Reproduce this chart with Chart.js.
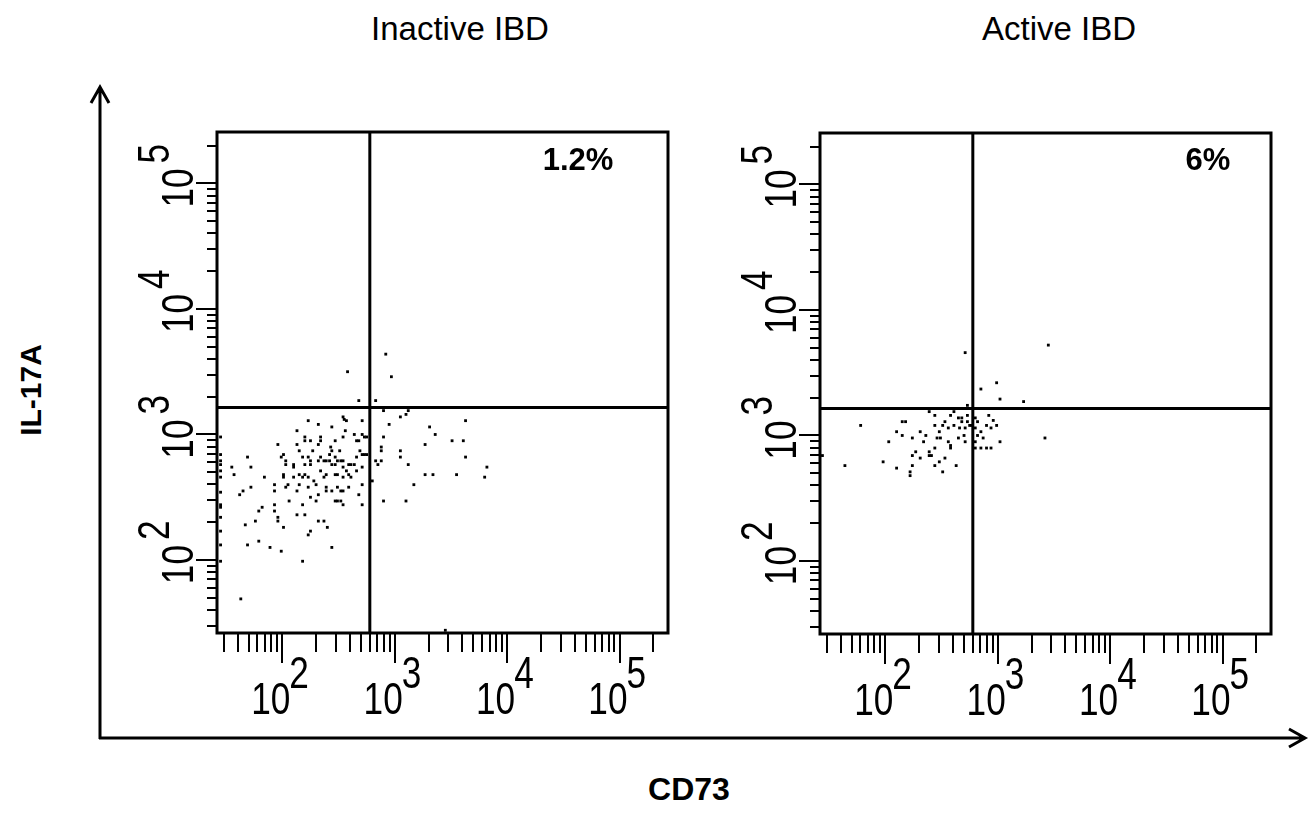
<!DOCTYPE html>
<html lang="en">
<head>
<meta charset="UTF-8">
<title>IL-17A vs CD73 - Inactive / Active IBD</title>
<style>
    body {
        margin: 0;
        width: 1312px;
        height: 834px;
        position: relative;
        overflow: hidden;
        background: #fff;
        color: #000;
        font-family: "Liberation Sans", Arial, sans-serif;
    }
    canvas { position: absolute; }
    #plotInactive { left: 120px; top: 100px; }
    #plotActive { left: 723px; top: 101px; }
    .panel-title {
        position: absolute;
        top: 10px;
        font-size: 33px;
        line-height: 38px;
        white-space: nowrap;
        transform: translateX(-50%);
    }
    .bold-label {
        position: absolute;
        font-weight: bold;
        white-space: nowrap;
        transform: translate(-50%, -50%);
    }
    #arrows { position: absolute; left: 0; top: 0; }
</style>
<script src="https://cdn.jsdelivr.net/npm/chart.js"></script>
</head>
<body>
    <div class="panel-title" style="left:460px">Inactive IBD</div>
    <div class="panel-title" style="left:1059px">Active IBD</div>

    <svg id="arrows" width="1312" height="834">
        <g stroke="#000" stroke-width="3" fill="none">
            <path d="M100 739 V88 M91 103 L100 87 L109 103"/>
            <path d="M99 738 H1304 M1289 729 L1305 738 L1289 747"/>
        </g>
    </svg>

    <canvas id="plotInactive" width="570" height="640"></canvas>
    <canvas id="plotActive" width="570" height="640"></canvas>

    <div class="bold-label" style="left:578px; top:160px; font-size:31px">1.2%</div>
    <div class="bold-label" style="left:1208px; top:160px; font-size:31px">6%</div>
    <div class="bold-label" style="left:31px; top:390px; font-size:30px; transform:translate(-50%,-50%) rotate(-90deg)">IL-17A</div>
    <div class="bold-label" style="left:689px; top:789px; font-size:32px">CD73</div>

<script>
// axis ranges (fluorescence intensity, log display)
const cd73Min = 26.2, cd73Max = 270000;
const il17aMin = 26.2, il17aMax = 257000;

// quadrant gate
const gateCD73 = 600;
const gateIL17A = 1640;

// tick marks: every k * 10^n, labelled at the decades
const tickDecades = [10, 100, 1000, 10000, 100000];
const tickSteps = [1, 2, 3, 4, 5, 6, 7, 8, 9];
const labelDecades = [100, 1000, 10000, 100000];
const labelExponents = ['2', '3', '4', '5'];

// events, as log10 of intensity
const inactiveLogCD73 = [
    2.92, 2.58, 2.97, 2.68, 2.83,
    2.90, 3.12, 3.10, 3.05, 2.54, 2.55, 2.23, 2.57, 2.71, 3.63,
    2.32, 2.95, 2.44, 3.31, 2.13, 2.56, 2.64, 2.71, 3.36,
    2.20, 2.20, 2.34, 2.34, 2.54, 2.73, 2.75, 2.90,
    1.96, 2.13, 2.25, 2.47, 2.66, 2.68, 3.51, 3.61,
    2.15, 2.27, 2.32, 2.43, 2.44, 2.51, 2.69, 2.88, 2.88, 3.05, 3.27,
    1.69, 1.99, 2.01, 2.18, 2.23, 2.25, 2.34, 2.42, 2.47, 2.54, 2.66, 2.71, 2.73, 2.75, 3.05, 3.63,
    1.55, 1.72, 2.03, 2.03, 2.10, 2.10, 2.20, 2.25, 2.32, 2.37, 2.39, 2.42, 2.44, 2.47, 2.49, 2.52, 2.54, 2.59, 2.61, 2.64, 2.66, 2.71, 2.83, 2.88, 2.85, 3.12,
    1.57, 1.84, 2.01, 2.01, 2.10, 2.15, 2.18, 2.20, 2.23, 2.28, 2.30, 2.34, 2.37, 2.39, 2.47, 2.49, 2.54, 2.57, 2.59, 2.61, 2.80, 3.27, 3.34, 3.55, 3.82, 3.80,
    1.65, 1.72, 1.62, 1.93, 1.93, 2.03, 2.05, 2.13, 2.15, 2.23, 2.32, 2.39, 2.39, 2.44, 2.49, 2.52, 2.54, 2.59, 2.71, 2.68, 3.17,
    2.06, 2.18, 2.25, 2.30, 2.47, 2.49, 2.52, 2.54, 2.71, 2.90, 3.10,
    1.82, 1.79, 1.93, 1.93, 1.96, 1.96, 2.13, 2.20, 2.32, 2.37,
    1.67, 1.76, 2.01, 2.40, 2.25, 2.23,
    1.69, 1.79, 1.89, 1.99, 2.44, 2.18,
    1.45, 1.45, 1.45, 1.45, 1.45, 1.45, 1.45, 1.45, 1.45, 1.45, 1.45, 1.45, 1.45,
    1.63, 3.45
];
const inactiveLogIL17A = [
    3.64, 3.50, 3.46, 3.27, 3.27,
    3.19, 3.19, 3.16, 3.14, 3.14, 3.12, 3.11, 3.11, 3.11, 3.11,
    3.08, 3.08, 3.06, 3.06, 3.03, 3.03, 3.00, 3.00, 3.00,
    2.98, 2.95, 2.98, 2.95, 2.98, 2.98, 2.98, 2.98,
    2.92, 2.92, 2.95, 2.95, 2.95, 2.95, 2.95, 2.95,
    2.87, 2.87, 2.92, 2.90, 2.87, 2.87, 2.87, 2.90, 2.87, 2.87, 2.92,
    2.82, 2.82, 2.84, 2.82, 2.82, 2.79, 2.82, 2.84, 2.82, 2.79, 2.82, 2.84, 2.84, 2.84, 2.82, 2.82,
    2.74, 2.74, 2.79, 2.76, 2.76, 2.74, 2.76, 2.76, 2.79, 2.79, 2.79, 2.79, 2.76, 2.76, 2.79, 2.79, 2.74, 2.76, 2.76, 2.76, 2.71, 2.74, 2.79, 2.79, 2.76, 2.76,
    2.68, 2.66, 2.68, 2.66, 2.66, 2.68, 2.66, 2.68, 2.66, 2.63, 2.60, 2.71, 2.66, 2.68, 2.68, 2.68, 2.66, 2.71, 2.68, 2.66, 2.63, 2.68, 2.68, 2.68, 2.74, 2.66,
    2.55, 2.58, 2.52, 2.60, 2.55, 2.58, 2.60, 2.55, 2.60, 2.58, 2.52, 2.58, 2.55, 2.55, 2.58, 2.55, 2.55, 2.58, 2.60, 2.52, 2.60,
    2.47, 2.44, 2.50, 2.47, 2.47, 2.47, 2.47, 2.44, 2.44, 2.47, 2.47,
    2.42, 2.39, 2.44, 2.39, 2.34, 2.31, 2.36, 2.36, 2.31, 2.31,
    2.28, 2.31, 2.26, 2.26, 2.23, 2.20,
    2.12, 2.15, 2.10, 2.07, 2.10, 1.99,
    2.98, 2.84, 2.79, 2.76, 2.71, 2.66, 2.54, 2.44, 2.42, 2.34, 2.23, 2.12, 1.99,
    1.69, 1.44
];

const activeLogCD73 = [
    3.45, 2.71, 2.99, 2.85, 3.02, 3.23, 2.73,
    2.39, 2.61, 2.44, 2.58, 2.73, 2.92, 2.65, 2.68,
    2.15, 2.18, 2.53, 2.68, 2.73, 2.80, 2.82, 2.96,
    1.78, 2.44, 2.51, 2.61, 2.75, 2.77, 2.90, 2.99,
    2.56, 2.66, 2.71, 2.80, 2.94,
    2.10, 2.31, 2.48, 2.85,
    2.15, 2.36, 2.70, 2.82,
    2.03, 2.24, 2.34, 2.46, 2.49, 2.56, 2.65, 2.71, 2.87, 2.80, 3.02, 3.42,
    2.58, 2.58, 2.44, 2.80, 2.85, 2.90, 2.94,
    2.27, 2.39, 2.39, 2.41, 2.24, 2.53, 2.31, 2.48, 1.98,
    1.64, 2.24, 2.44, 2.63, 2.10, 2.22, 2.22, 2.51, 1.44
];
const activeLogIL17A = [
    3.72, 3.66, 3.42, 3.37, 3.29, 3.27, 3.24,
    3.19, 3.19, 3.16, 3.16, 3.16, 3.16, 3.14, 3.14,
    3.11, 3.11, 3.11, 3.11, 3.11, 3.14, 3.11, 3.12,
    3.08, 3.08, 3.08, 3.08, 3.08, 3.08, 3.08, 3.08,
    3.06, 3.06, 3.06, 3.06, 3.06,
    3.03, 3.03, 3.03, 3.03,
    3.00, 3.00, 3.00, 3.00,
    2.95, 2.98, 2.95, 2.98, 2.98, 2.95, 2.98, 2.95, 2.98, 2.95, 2.95, 2.98,
    2.92, 2.90, 2.90, 2.90, 2.90, 2.90, 2.90,
    2.87, 2.87, 2.84, 2.84, 2.84, 2.82, 2.82, 2.79, 2.79,
    2.76, 2.76, 2.76, 2.76, 2.74, 2.71, 2.68, 2.71, 2.84
];

// look of the axes
const xMinorTick = 19, xMajorTick = 30;
const yMinorTick = 10, yMajorTick = 21;
const labelFont = '44px "Liberation Sans", Arial, sans-serif';
const labelSqueeze = 0.8;

function toEvents(logX, logY) {
    return logX.map((v, i) => ({ x: Math.pow(10, v), y: Math.pow(10, logY[i]) }));
}

// minor ticks at 2..9, major at the decades
function buildLogTicks(scale) {
    const ticks = [];
    tickDecades.forEach(d => {
        tickSteps.forEach(k => {
            const v = k * d;
            if (v >= scale.min && v <= scale.max) ticks.push({ value: v, major: k === 1 });
        });
    });
    scale.ticks = ticks;
}

// frame, long decade ticks and "10^n" labels
const flowFrame = {
    id: 'flowFrame',
    afterDraw(chart) {
        const { ctx, chartArea: a } = chart;
        const xs = chart.scales.x, ys = chart.scales.y;
        ctx.save();
        ctx.strokeStyle = '#000';
        ctx.fillStyle = '#000';
        ctx.lineWidth = 3;
        ctx.strokeRect(a.left, a.top, a.right - a.left, a.bottom - a.top);

        ctx.lineWidth = 2;
        ctx.beginPath();
        xs.ticks.filter(t => t.major).forEach(t => {
            const px = Math.round(xs.getPixelForValue(t.value));
            ctx.moveTo(px, a.bottom);
            ctx.lineTo(px, a.bottom + xMajorTick);
        });
        ys.ticks.filter(t => t.major).forEach(t => {
            const py = Math.round(ys.getPixelForValue(t.value));
            ctx.moveTo(a.left, py);
            ctx.lineTo(a.left - yMajorTick, py);
        });
        ctx.stroke();

        ctx.font = labelFont;
        ctx.textBaseline = 'alphabetic';
        labelDecades.forEach((v, i) => {
            // x axis label, under the tick
            const px = xs.getPixelForValue(v);
            ctx.save();
            ctx.translate(px, a.bottom);
            ctx.scale(labelSqueeze, 1);
            ctx.textAlign = 'right';
            ctx.fillText('10', 8 / labelSqueeze, 81);
            ctx.textAlign = 'left';
            ctx.fillText(labelExponents[i], 7 / labelSqueeze, 55);
            ctx.restore();

            // y axis label, turned to read upwards
            const py = ys.getPixelForValue(v);
            ctx.save();
            ctx.translate(a.left - 24, py);
            ctx.rotate(-Math.PI / 2);
            ctx.scale(labelSqueeze, 1);
            ctx.textAlign = 'right';
            ctx.fillText('10', 15 / labelSqueeze, 0);
            ctx.textAlign = 'left';
            ctx.fillText(labelExponents[i], 20 / labelSqueeze, -24);
            ctx.restore();
        });
        ctx.restore();
    }
};

function makePlot(canvasId, logX, logY) {
    return new Chart(document.getElementById(canvasId), {
        type: 'scatter',
        data: {
            datasets: [
                {
                    data: toEvents(logX, logY),
                    pointStyle: 'rect',
                    pointRadius: 2,
                    borderWidth: 0,
                    backgroundColor: '#000'
                },
                {
                    data: [{ x: cd73Min, y: gateIL17A }, { x: cd73Max, y: gateIL17A }],
                    showLine: true,
                    pointRadius: 0,
                    borderWidth: 3,
                    borderColor: '#000'
                },
                {
                    data: [{ x: gateCD73, y: il17aMin }, { x: gateCD73, y: il17aMax }],
                    showLine: true,
                    pointRadius: 0,
                    borderWidth: 3,
                    borderColor: '#000'
                }
            ]
        },
        options: {
            responsive: false,
            animation: false,
            events: [],
            layout: { padding: { top: 32, right: 22, left: 0, bottom: 0 } },
            plugins: { legend: { display: false }, tooltip: { enabled: false } },
            scales: {
                x: {
                    type: 'logarithmic',
                    min: cd73Min,
                    max: cd73Max,
                    bounds: 'data',
                    afterBuildTicks: buildLogTicks,
                    afterFit: s => { s.height = 107; },
                    ticks: { display: false },
                    border: { display: false },
                    grid: {
                        drawOnChartArea: false,
                        drawTicks: true,
                        tickLength: xMinorTick,
                        tickWidth: 2,
                        tickColor: '#000',
                        color: '#000',
                        lineWidth: 2
                    }
                },
                y: {
                    type: 'logarithmic',
                    min: il17aMin,
                    max: il17aMax,
                    bounds: 'data',
                    afterBuildTicks: buildLogTicks,
                    afterFit: s => { s.width = 97; },
                    ticks: { display: false },
                    border: { display: false },
                    grid: {
                        drawOnChartArea: false,
                        drawTicks: true,
                        tickLength: yMinorTick,
                        tickWidth: 2,
                        tickColor: '#000',
                        color: '#000',
                        lineWidth: 2
                    }
                }
            }
        },
        plugins: [flowFrame]
    });
}

makePlot('plotInactive', inactiveLogCD73, inactiveLogIL17A);
makePlot('plotActive', activeLogCD73, activeLogIL17A);
</script>
</body>
</html>
